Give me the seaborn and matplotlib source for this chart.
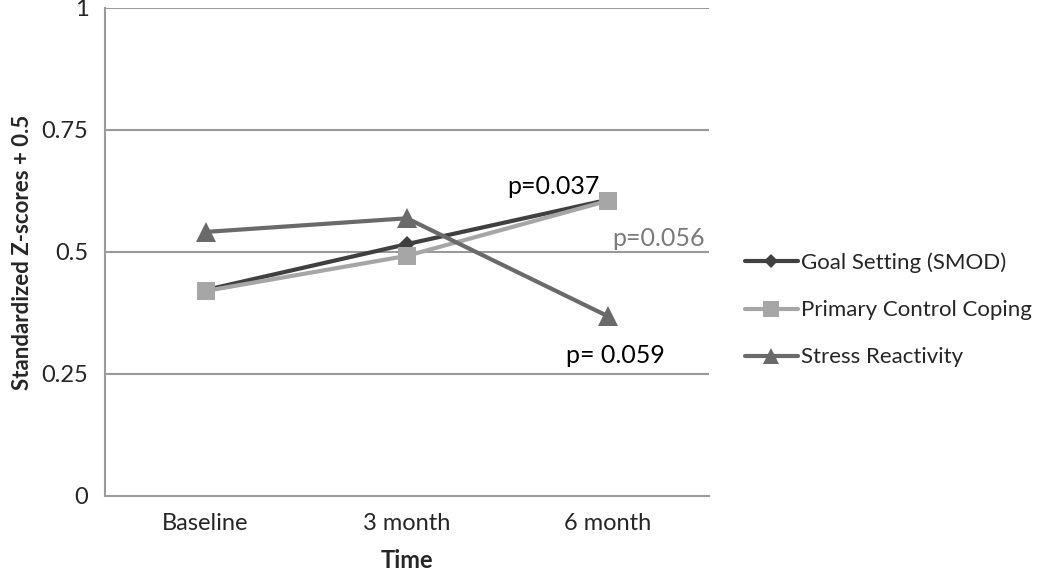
import pandas as pd
import seaborn as sns
import matplotlib.pyplot as plt
from matplotlib.lines import Line2D

times = ['Baseline', '3 month', '6 month']
goal_setting = [0.422, 0.516, 0.607]
primary_control = [0.420, 0.492, 0.605]
stress_reactivity = [0.541, 0.569, 0.368]
series_names = ['Goal Setting (SMOD)', 'Primary Control Coping', 'Stress Reactivity']

df = pd.DataFrame({
    'Time': times * 3,
    'value': goal_setting + primary_control + stress_reactivity,
    'series': [series_names[0]] * 3 + [series_names[1]] * 3 + [series_names[2]] * 3,
})

sns.set_style('white')
plt.rcParams['font.family'] = ['Lato', 'DejaVu Sans']

colors = {series_names[0]: '#404040', series_names[1]: '#a6a6a6', series_names[2]: '#6a6a6a'}
markers = {series_names[0]: 'D', series_names[1]: 's', series_names[2]: '^'}
msizes = {series_names[0]: 8, series_names[1]: 13, series_names[2]: 14}

fig = plt.figure(figsize=(10.5, 5.7), dpi=100)
ax = fig.add_axes([0.1, 0.13, 0.575, 0.856])

ax.set_ylim(0, 1)
ax.set_xlim(-0.5, 2.5)
ax.set_yticks([0, 0.25, 0.5, 0.75, 1])
ax.set_yticklabels(['0', '0.25', '0.5', '0.75', '1'])
for y in [0.25, 0.5, 0.75, 1]:
    ax.axhline(y, color='#9a9a9a', lw=1.5, zorder=0)

for name in series_names:
    sub = df[df['series'] == name]
    sns.lineplot(data=sub, x='Time', y='value', ax=ax, color=colors[name],
                 marker=markers[name], markersize=msizes[name], markeredgewidth=0,
                 linewidth=3, sort=False, legend=False)

ax.set_xticks([0, 1, 2])
ax.set_xticklabels(times)
ax.set_xticks([-0.5, 0.5, 1.5, 2.5], minor=True)
ax.tick_params(axis='x', which='major', length=0, labelsize=17, pad=12)
ax.tick_params(axis='x', which='minor', length=6, width=1.5, color='#9a9a9a', direction='out')
ax.tick_params(axis='y', length=8, width=1.5, color='#9a9a9a', direction='out', labelsize=17, pad=4)

for s in ['top', 'right']:
    ax.spines[s].set_visible(False)
for s in ['left', 'bottom']:
    ax.spines[s].set_color('#9a9a9a')
    ax.spines[s].set_linewidth(1.5)

ax.set_xlabel('Time', fontsize=17, fontweight='bold', labelpad=11)
ax.set_ylabel('Standardized Z-scores + 0.5', fontsize=16, fontweight='bold', labelpad=6)

ax.text(1.50, 0.635, 'p=0.037', fontsize=18, color='black', ha='left', va='center')
ax.text(2.02, 0.527, 'p=0.056', fontsize=18, color='#7a7a7a', ha='left', va='center')
ax.text(1.79, 0.288, 'p= 0.059', fontsize=18, color='black', ha='left', va='center')

handles = [Line2D([0], [0], color=colors[n], lw=3, marker=markers[n],
                  markersize=msizes[n] * 0.85, markeredgewidth=0) for n in series_names]
fig.legend(handles, series_names, loc='center left', bbox_to_anchor=(0.69, 0.456),
           frameon=False, fontsize=16, handlelength=2.4, handletextpad=0.15,
           labelspacing=1.22)

fig.savefig('out.png', dpi=100)
